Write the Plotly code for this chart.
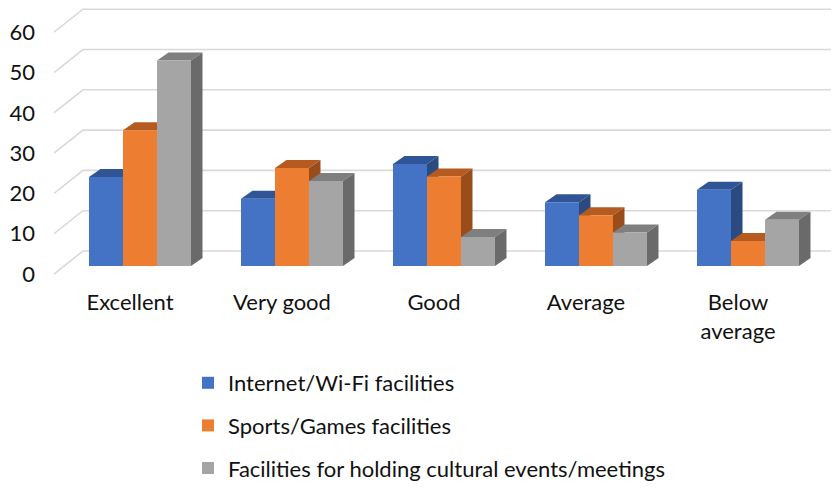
import plotly.graph_objects as go

# ---- data ----
categories = ["Excellent", "Very good", "Good", "Average", "Below average"]
tick_labels = ["Excellent", "Very good", "Good", "Average", "Below<br>average"]
series_names = ["Internet/Wi-Fi facilities", "Sports/Games facilities",
                "Facilities for holding cultural events/meetings"]
internet = [22.1, 16.7, 25.3, 15.8, 18.9]
sports = [33.7, 24.3, 22.2, 12.6, 6.2]
cultural = [51.0, 21.1, 7.2, 8.3, 11.5]
y_ticks = [0, 10, 20, 30, 40, 50, 60]

# ---- styling / geometry (pixel-derived constants) ----
front_colors = ["#4472C4", "#ED7D31", "#A5A5A5"]
top_colors = ["#2F5597", "#B65B1F", "#7F7F7F"]
side_colors = ["#2A4A80", "#9A4D1A", "#6A6A6A"]

W, H = 831, 478          # page body has an 8px margin
L, T = 46, 0
PW, PH = 785, 266
PX_X = 152.0      # px per category
PX_Y = 4.03       # px per value unit

x_lo = -0.5
x_hi = x_lo + PW / PX_X
y_lo = 0.0
y_hi = PH / PX_Y

BAR_W = 34 / PX_X
SHIFT_X = 10 / PX_X
SHIFT_Y = 8 / PX_Y
DEPTH_X = 11.5 / PX_X
DEPTH_Y = 8 / PX_Y
WALL_X = 29 / PX_X
WALL_Y = 23 / PX_Y

FONT = "Lato"
FS = 22
TXT = "#111111"

series = [internet, sports, cultural]
xs = list(range(len(categories)))

fig = go.Figure()
for j, (name, vals) in enumerate(zip(series_names, series)):
    fig.add_trace(go.Bar(
        x=xs, y=vals, base=SHIFT_Y, width=BAR_W,
        offset=(j - 1.5) * BAR_W + SHIFT_X,
        name=name, legendgroup=name,
        marker=dict(color=front_colors[j], line=dict(width=0)),
        customdata=categories,
        hovertemplate="%{customdata}: %{y}<extra>" + name + "</extra>",
    ))


def py(v):
    """value -> paper y"""
    return (v - y_lo) / (y_hi - y_lo)


shapes = []
# back wall gridlines with the oblique side-wall segment
for v in y_ticks:
    path = (f"M{x_lo},{py(v)} L{x_lo + WALL_X},{py(v + WALL_Y)} "
            f"L{x_hi + 1},{py(v + WALL_Y)}")
    shapes.append(dict(type="path", path=path, xref="x", yref="paper",
                       line=dict(color="#D9D9D9", width=1.6), layer="below"))

# 3D top and side faces of each bar
for i in xs:
    for j, vals in enumerate(series):
        xl = i + (j - 1.5) * BAR_W + SHIFT_X
        xr = xl + BAR_W
        yb = SHIFT_Y
        yt = SHIFT_Y + vals[i]
        top = (f"M{xl},{yt} L{xl + DEPTH_X},{yt + DEPTH_Y} "
               f"L{xr + DEPTH_X},{yt + DEPTH_Y} L{xr},{yt} Z")
        side = (f"M{xr},{yb} L{xr + DEPTH_X},{yb + DEPTH_Y} "
                f"L{xr + DEPTH_X},{yt + DEPTH_Y} L{xr},{yt} Z")
        shapes.append(dict(type="path", path=top, xref="x", yref="y",
                           fillcolor=top_colors[j], line=dict(width=0),
                           layer="between"))
        shapes.append(dict(type="path", path=side, xref="x", yref="y",
                           fillcolor=side_colors[j], line=dict(width=0),
                           layer="between"))

fig.update_layout(
    width=W, height=H,
    margin=dict(l=L, r=W - L - PW, t=T, b=H - T - PH, pad=0,
                autoexpand=False),
    paper_bgcolor="white", plot_bgcolor="white",
    font=dict(family=FONT, size=FS, color=TXT),
    barmode="overlay",
    shapes=shapes,
    showlegend=True,
    legend=dict(orientation="v", x=(180 - L) / PW, xanchor="left",
                y=(PH - 354) / PH, yanchor="top",
                font=dict(family=FONT, size=FS, color=TXT),
                tracegroupgap=11, traceorder="grouped",
                bgcolor="rgba(0,0,0,0)"),
    xaxis=dict(range=[x_lo, x_hi], tickmode="array", tickvals=xs,
               ticktext=tick_labels, showgrid=False, zeroline=False,
               showline=False, ticks="", ticklabelstandoff=13,
               automargin=False,
               tickfont=dict(family=FONT, size=FS, color=TXT), fixedrange=True),
    yaxis=dict(range=[y_lo, y_hi], tickmode="array", tickvals=y_ticks,
               showgrid=False, zeroline=False, showline=False, ticks="",
               ticklabelstandoff=18, automargin=False,
               tickfont=dict(family=FONT, size=FS, color=TXT), fixedrange=True),
)

fig.write_html("out.html")
